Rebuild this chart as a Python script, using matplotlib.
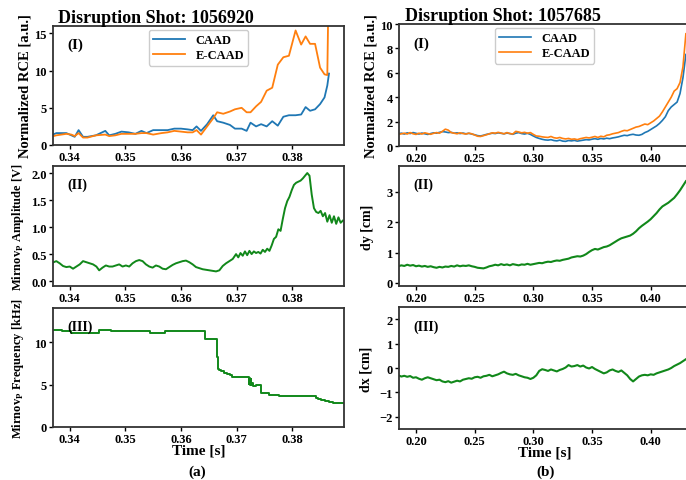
import matplotlib
matplotlib.use("Agg")
import matplotlib.pyplot as plt
import numpy as np

plt.rcParams['font.family'] = ['Liberation Serif', 'DejaVu Serif']
plt.rcParams['font.weight'] = 'bold'
plt.rcParams['axes.labelweight'] = 'bold'
plt.rcParams['mathtext.fontset'] = 'custom'
plt.rcParams['mathtext.rm'] = 'Liberation Serif:bold'
plt.rcParams['mathtext.bf'] = 'Liberation Serif:bold'

# ---- shot 1056920 (left column) ----
rce_t = [0.3371, 0.3376, 0.3394, 0.3403, 0.3409, 0.3416, 0.3424, 0.3432, 0.3447, 0.3464,
         0.3471, 0.3482, 0.3493, 0.3506, 0.3518, 0.3529, 0.3538, 0.3550, 0.3565, 0.3576,
         0.3588, 0.3600, 0.3612, 0.3621, 0.3628, 0.3636, 0.3647, 0.3658, 0.3665, 0.3676,
         0.3688, 0.3697, 0.3709, 0.3718, 0.3725, 0.3735, 0.3744, 0.3754, 0.3764, 0.3774,
         0.3784, 0.3794, 0.3806, 0.3816, 0.3824, 0.3832, 0.3841, 0.3850, 0.3858, 0.3863,
         0.3866]
caad_a = [1.44, 1.6, 1.6, 1.3, 1.1, 2.0, 1.1, 1.1, 1.3, 1.9,
          1.3, 1.5, 1.8, 1.7, 1.5, 1.9, 1.6, 2.0, 2.0, 2.0,
          2.2, 2.2, 2.1, 2.0, 2.5, 1.9, 2.8, 4.0, 3.2, 3.0,
          2.7, 2.2, 2.2, 1.9, 3.0, 2.5, 2.8, 2.5, 3.2, 2.6,
          3.8, 4.0, 4.0, 4.1, 5.1, 4.6, 4.8, 5.5, 6.4, 8.0,
          9.6]
ecaad_a = [1.2, 1.3, 1.5, 1.4, 1.2, 1.6, 1.0, 1.0, 1.3, 1.4,
           1.2, 1.3, 1.5, 1.5, 1.5, 1.6, 1.6, 1.4, 1.6, 1.7,
           1.9, 1.8, 1.7, 1.7, 2.0, 1.4, 2.5, 3.6, 4.4, 4.2,
           4.5, 4.8, 5.0, 4.4, 4.4, 5.2, 5.8, 7.3, 7.7, 10.8,
           11.8, 12.0, 15.4, 13.5, 14.6, 13.6, 13.6, 10.4, 9.5, 9.4,
           25.0]

amp_t = [0.3371, 0.3376, 0.3382, 0.3388, 0.3394, 0.3400, 0.3406, 0.3412, 0.3418, 0.3424,
         0.3430, 0.3436, 0.3442, 0.3448, 0.3453, 0.3459, 0.3465, 0.3471, 0.3477, 0.3483,
         0.3489, 0.3495, 0.3501, 0.3507, 0.3513, 0.3519, 0.3525, 0.3531, 0.3537, 0.3543,
         0.3549, 0.3555, 0.3561, 0.3567, 0.3573, 0.3579, 0.3585, 0.3591, 0.3597, 0.3603,
         0.3609, 0.3615, 0.3621, 0.3627, 0.3633, 0.3639, 0.3645, 0.3651, 0.3657, 0.3663,
         0.3669, 0.3675, 0.3681, 0.3687, 0.3693, 0.3699, 0.3703, 0.3707, 0.3711, 0.3715,
         0.3719, 0.3723, 0.3727, 0.3731, 0.3735, 0.3739, 0.3743, 0.3747, 0.3751, 0.3755,
         0.3759, 0.3763, 0.3767, 0.3771, 0.3775, 0.3779, 0.3783, 0.3787, 0.3791, 0.3795,
         0.3799, 0.3803, 0.3807, 0.3811, 0.3815, 0.3819, 0.3823, 0.3827, 0.3831, 0.3835,
         0.3839, 0.3843, 0.3847, 0.3851, 0.3855, 0.3859, 0.3863, 0.3867, 0.3871, 0.3875,
         0.3879, 0.3883, 0.3887, 0.3891]
amp_v = [0.35, 0.37, 0.33, 0.28, 0.26, 0.27, 0.23, 0.27, 0.31, 0.37,
         0.35, 0.33, 0.31, 0.27, 0.20, 0.25, 0.29, 0.27, 0.27, 0.29,
         0.31, 0.27, 0.29, 0.27, 0.33, 0.37, 0.39, 0.37, 0.31, 0.27,
         0.25, 0.29, 0.27, 0.23, 0.22, 0.26, 0.30, 0.33, 0.35, 0.37,
         0.38, 0.35, 0.31, 0.26, 0.24, 0.22, 0.21, 0.20, 0.19, 0.18,
         0.20, 0.28, 0.33, 0.37, 0.41, 0.50, 0.44, 0.52, 0.47, 0.55,
         0.48, 0.56, 0.50, 0.55, 0.52, 0.54, 0.51, 0.58, 0.54, 0.60,
         0.56, 0.66, 0.78, 0.82, 0.96, 0.93, 1.15, 1.35, 1.48, 1.56,
         1.68, 1.78, 1.82, 1.84, 1.86, 1.90, 1.95, 2.00, 1.95, 1.60,
         1.35, 1.28, 1.26, 1.30, 1.20, 1.26, 1.10, 1.22, 1.08, 1.20,
         1.06, 1.18, 1.08, 1.12]

freq_t = [0.3371, 0.3386, 0.3403, 0.3453, 0.3474, 0.3544, 0.3571, 0.3644, 0.3664, 0.3666,
          0.3668, 0.3672, 0.3677, 0.3682, 0.3688, 0.3692, 0.3722, 0.3723, 0.3724, 0.3725,
          0.3726, 0.3727, 0.3730, 0.3735, 0.3741, 0.3744, 0.3759, 0.3776, 0.3842, 0.3846,
          0.3852, 0.3858, 0.3866, 0.3874, 0.3891]
freq_v = [11.46, 11.26, 11.07, 11.46, 11.26, 11.07, 11.26, 10.3, 8.2, 6.85,
          6.7, 6.55, 6.4, 6.25, 6.1, 5.85, 5.1, 5.8, 5.0, 5.7,
          5.0, 5.2, 4.85, 4.95, 5.0, 4.0, 3.78, 3.6, 3.4, 3.3,
          3.2, 3.05, 2.95, 2.8, 2.8]

# ---- shot 1057685 (right column), sampled every 2.5 ms ----
t_b = np.linspace(0.185, 0.43, 99)
caad_b = [1.00, 1.05, 0.98, 1.08, 1.02, 1.10, 1.04, 0.98, 1.06, 1.00, 0.95, 1.02, 1.08, 1.05, 1.12,
          1.18, 1.15, 1.10, 1.12, 1.05, 1.08, 1.02, 1.06, 1.00, 1.04, 0.98, 0.92, 0.85, 0.82, 0.88,
          0.95, 1.00, 1.05, 1.02, 1.08, 1.04, 1.00, 1.06, 1.02, 0.96, 1.05, 1.10, 1.02, 0.98, 1.04,
          0.95, 0.82, 0.70, 0.62, 0.55, 0.50, 0.48, 0.52, 0.45, 0.42, 0.48, 0.40, 0.38, 0.45, 0.42,
          0.46, 0.40, 0.44, 0.48, 0.52, 0.50, 0.56, 0.60, 0.55, 0.62, 0.58, 0.64, 0.60, 0.66, 0.70,
          0.75, 0.82, 0.88, 0.85, 0.92, 0.96, 0.90, 0.88, 0.95, 1.10, 1.20, 1.35, 1.50, 1.65, 1.85,
          2.10, 2.40, 2.90, 3.20, 3.40, 3.60, 4.30, 5.60, 7.50]
ecaad_b = [0.95, 1.00, 1.05, 0.98, 1.10, 1.00, 0.95, 1.05, 0.98, 1.08, 1.02, 0.96, 1.04, 1.10, 1.05,
           1.20, 1.38, 1.30, 1.10, 1.05, 1.00, 1.08, 1.02, 0.98, 1.05, 1.00, 0.90, 0.80, 0.78, 0.85,
           0.92, 1.00, 1.08, 1.05, 1.12, 1.06, 1.00, 1.10, 1.02, 0.98, 1.20, 1.15, 1.08, 1.12, 1.05,
           1.10, 0.95, 0.82, 0.80, 0.75, 0.72, 0.70, 0.78, 0.68, 0.64, 0.70, 0.62, 0.58, 0.62, 0.55,
           0.58, 0.52, 0.60, 0.65, 0.70, 0.66, 0.72, 0.78, 0.70, 0.80, 0.75, 0.88, 0.92, 1.00, 1.05,
           1.10, 1.20, 1.28, 1.25, 1.35, 1.45, 1.55, 1.60, 1.70, 1.80, 1.75, 1.90, 2.05, 2.25, 2.45,
           2.80, 3.20, 3.60, 4.00, 4.50, 4.70, 5.20, 6.50, 9.20]
dy_b = [0.55, 0.58, 0.56, 0.60, 0.57, 0.59, 0.55, 0.57, 0.54, 0.56, 0.53, 0.55, 0.52, 0.50, 0.53,
        0.51, 0.54, 0.53, 0.56, 0.54, 0.58, 0.55, 0.57, 0.56, 0.58, 0.55, 0.53, 0.50, 0.49, 0.48,
        0.51, 0.55, 0.57, 0.60, 0.58, 0.62, 0.59, 0.61, 0.58, 0.62, 0.60, 0.58, 0.61, 0.60, 0.63,
        0.60, 0.62, 0.64, 0.66, 0.65, 0.68, 0.70, 0.69, 0.72, 0.74, 0.73, 0.76, 0.78, 0.80, 0.84,
        0.86, 0.88, 0.87, 0.90, 0.95, 1.02, 1.08, 1.12, 1.10, 1.14, 1.18, 1.20, 1.24, 1.30, 1.36,
        1.42, 1.47, 1.50, 1.53, 1.56, 1.62, 1.70, 1.80, 1.88, 1.95, 2.02, 2.10, 2.20, 2.30, 2.42,
        2.52, 2.58, 2.64, 2.72, 2.80, 2.92, 3.05, 3.20, 3.35]
dx_b = [-0.30, -0.35, -0.32, -0.36, -0.33, -0.40, -0.38, -0.44, -0.48, -0.42, -0.38, -0.42, -0.46, -0.50, -0.48,
        -0.55, -0.58, -0.54, -0.60, -0.56, -0.52, -0.55, -0.48, -0.45, -0.42, -0.44, -0.38, -0.36, -0.40, -0.34,
        -0.32, -0.28, -0.34, -0.30, -0.26, -0.20, -0.15, -0.22, -0.26, -0.28, -0.24, -0.30, -0.34, -0.38, -0.40,
        -0.45, -0.40, -0.30, -0.12, -0.05, -0.08, -0.12, -0.06, -0.10, -0.14, -0.08, -0.04, 0.02, 0.12, 0.06,
        0.08, 0.12, 0.06, 0.10, 0.02, -0.02, 0.04, -0.04, -0.10, -0.16, -0.22, -0.18, -0.10, -0.06, -0.12,
        -0.16, -0.10, -0.20, -0.30, -0.45, -0.55, -0.45, -0.35, -0.30, -0.28, -0.30, -0.26, -0.28, -0.22, -0.18,
        -0.14, -0.10, -0.06, 0.00, 0.08, 0.14, 0.20, 0.28, 0.36]

W, H = 686, 481
fig = plt.figure(figsize=(W / 100, H / 100), dpi=100)

def make_ax(l, t, r, b):
    ax = fig.add_axes([l / W, 1 - b / H, (r - l) / W, (b - t) / H])
    for s in ax.spines.values():
        s.set_linewidth(1.3)
        s.set_color('#333333')
    ax.tick_params(labelsize=9, length=3, width=1, pad=1.5)
    return ax

la1 = make_ax(53, 27, 344, 146)
la2 = make_ax(53, 167, 344, 287)
la3 = make_ax(53, 309, 344, 428)
ra1 = make_ax(399, 25, 690, 147)
ra2 = make_ax(399, 167, 690, 287)
ra3 = make_ax(399, 308, 690, 430)

green = '#11881a'

# left column
la1.plot(rce_t, caad_a, color='#1f77b4', lw=1.3, label='CAAD')
la1.plot(rce_t, ecaad_a, color='#ff7f0e', lw=1.3, label='E-CAAD')
la1.set_ylim(0, 16)
la1.set_yticks([0, 5, 10, 15])
la1.set_ylabel('Normalized RCE [a.u.]', fontsize=10.5, labelpad=2)

la2.plot(amp_t, amp_v, color=green, lw=1.4)
la2.set_ylim(-0.09, 2.13)
la2.set_yticks([0.0, 0.5, 1.0, 1.5, 2.0])
la2.set_ylabel(r'Mirnov$_\mathrm{P}$ Amplitude [V]', fontsize=9, labelpad=4)

la3.step(freq_t, freq_v, where='post', color=green, lw=1.4)
la3.set_ylim(0, 14)
la3.set_yticks([0, 5, 10])
la3.set_ylabel(r'Mirnov$_\mathrm{P}$ Frequency [kHz]', fontsize=9, labelpad=6)
la3.set_xlabel('Time [s]', fontsize=11, labelpad=-1)

for ax in (la1, la2, la3):
    ax.set_xlim(0.337, 0.3893)
    ax.set_xticks([0.34, 0.35, 0.36, 0.37, 0.38])

# right column
ra1.plot(t_b, caad_b, color='#1f77b4', lw=1.2, label='CAAD')
ra1.plot(t_b, ecaad_b, color='#ff7f0e', lw=1.2, label='E-CAAD')
ra1.set_ylim(0, 10)
ra1.set_yticks([0, 2, 4, 6, 8, 10])
ra1.set_ylabel('Normalized RCE [a.u.]', fontsize=10.5, labelpad=2)

ra2.plot(t_b, dy_b, color=green, lw=1.5)
ra2.set_ylim(-0.1, 3.85)
ra2.set_yticks([0, 1, 2, 3])
ra2.set_ylabel('dy [cm]', fontsize=10, labelpad=9)

ra3.plot(t_b, dx_b, color=green, lw=1.5)
ra3.set_ylim(-2.5, 2.5)
ra3.set_yticks([-2, -1, 0, 1, 2])
ra3.set_ylabel('dx [cm]', fontsize=10, labelpad=5)
ra3.set_xlabel('Time [s]', fontsize=11, labelpad=-1)

for ax in (ra1, ra2, ra3):
    ax.set_xlim(0.1855, 0.4335)
    ax.set_xticks([0.20, 0.25, 0.30, 0.35, 0.40])

for ax in (la1, ra1):
    ax.legend(loc='upper center', fontsize=9, handlelength=2.6, borderpad=0.35,
              labelspacing=0.25, borderaxespad=0.3, fancybox=True, framealpha=1,
              edgecolor='#cccccc', bbox_to_anchor=(0.5, 1.0))

for ax, lab, fs in ((la1, '(I)', 11), (la2, '(II)', 10), (la3, '(III)', 10),
                    (ra1, '(I)', 11), (ra2, '(II)', 10), (ra3, '(III)', 10)):
    ax.text(0.05, 0.90, lab, transform=ax.transAxes, fontsize=fs, va='top')

la1.text(0.017, 1.03, 'Disruption Shot: 1056920', transform=la1.transAxes, fontsize=13)
ra1.text(0.02, 1.03, 'Disruption Shot: 1057685', transform=ra1.transAxes, fontsize=13)

fig.text(197 / W, 1 - 472 / H, '(a)', ha='center', va='center', fontsize=11)
fig.text(546 / W, 1 - 472 / H, '(b)', ha='center', va='center', fontsize=11)

fig.savefig('out.png', dpi=100)
